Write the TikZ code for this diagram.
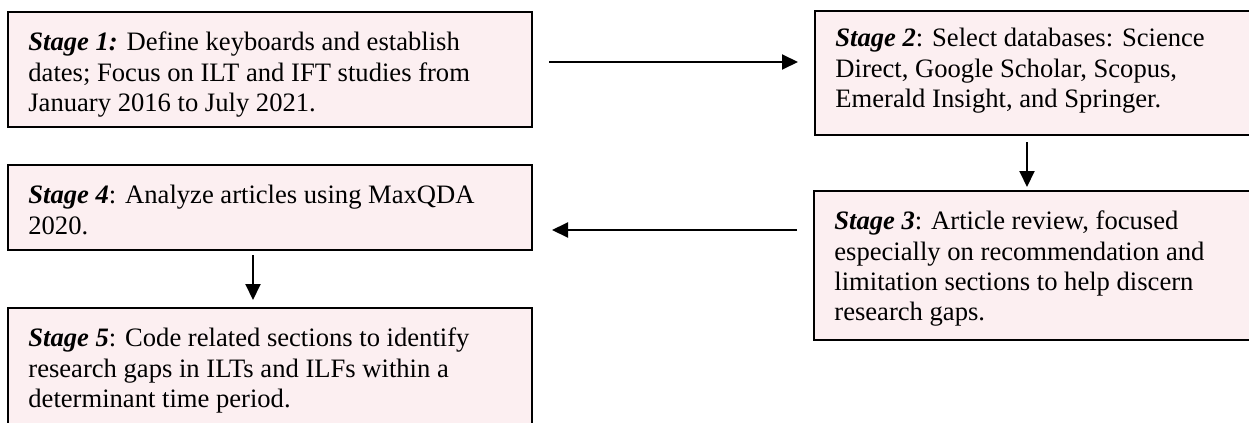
\documentclass[tikz,border=0pt]{standalone}
\usepackage{fontspec}
\setmainfont{Liberation Serif}
\usetikzlibrary{arrows.meta}
\definecolor{boxfill}{RGB}{252,239,241}
\newcommand{\stg}[1]{\textbf{\textit{#1}}}
\begin{document}
\begin{tikzpicture}[x=0.5pt,y=-0.5pt,
  stagebox/.style={draw=black, line width=1pt, fill=boxfill, rectangle, inner sep=0pt, outer sep=0pt, anchor=north west},
  stagetext/.style={anchor=north west, inner sep=0pt, align=left, font=\fontsize{13.3}{15.2}\selectfont},
  arr/.style={draw=black, line width=1pt, -{Triangle[length=8pt,width=7.5pt]}}]
\useasboundingbox (0,0) rectangle (1249,423);
\clip (0,0) rectangle (1249,423);
% boxes
\node[stagebox, minimum width=262pt, minimum height=57.5pt] (b1) at (8,12) {};
\node[stagebox, minimum width=225pt, minimum height=62pt] (b2) at (815,11) {};
\node[stagebox, minimum width=225.5pt, minimum height=74.5pt] (b3) at (814,191) {};
\node[stagebox, minimum width=262pt, minimum height=42.5pt] (b4) at (8,165) {};
\node[stagebox, minimum width=262pt, minimum height=66pt] (b5) at (8,308) {};
% texts
\node[stagetext] (t1) at ([shift={(20,17)}]b1.north west) {\strut\stg{Stage 1:} Define keyboards and establish\\dates; Focus on ILT and IFT studies from\\January 2016 to July 2021.};
\node[stagetext] (t2) at ([shift={(20,14)}]b2.north west) {\strut\stg{Stage 2}: Select databases: Science\\Direct, Google Scholar, Scopus,\\Emerald Insight, and Springer.};
\node[stagetext] (t3) at ([shift={(20,17)}]b3.north west) {\strut\stg{Stage 3}: Article review, focused\\especially on recommendation and\\limitation sections to help discern\\research gaps.};
\node[stagetext] (t4) at ([shift={(20,17)}]b4.north west) {\strut\stg{Stage 4}: Analyze articles using MaxQDA\\2020.};
\node[stagetext] (t5) at ([shift={(20,17)}]b5.north west) {\strut\stg{Stage 5}: Code related sections to identify\\research gaps in ILTs and ILFs within a\\determinant time period.};
% connector guides
\coordinate (y1) at (0,62);
\coordinate (x2) at (1027,0);
\coordinate (y3) at (0,230);
\coordinate (x4) at (253,0);
% connectors
\draw[arr, shorten <=8.5pt, shorten >=8.5pt] (b1.east |- y1) -- (b2.west |- y1);
\draw[arr, shorten <=3.5pt, shorten >=2pt] (b2.south -| x2) -- (b3.north -| x2);
\draw[arr, shorten <=8.5pt, shorten >=10pt] (b3.west |- y3) -- (b4.east |- y3);
\draw[arr, shorten <=2.5pt, shorten >=4pt] (b4.south -| x4) -- (b5.north -| x4);
\end{tikzpicture}
\end{document}
